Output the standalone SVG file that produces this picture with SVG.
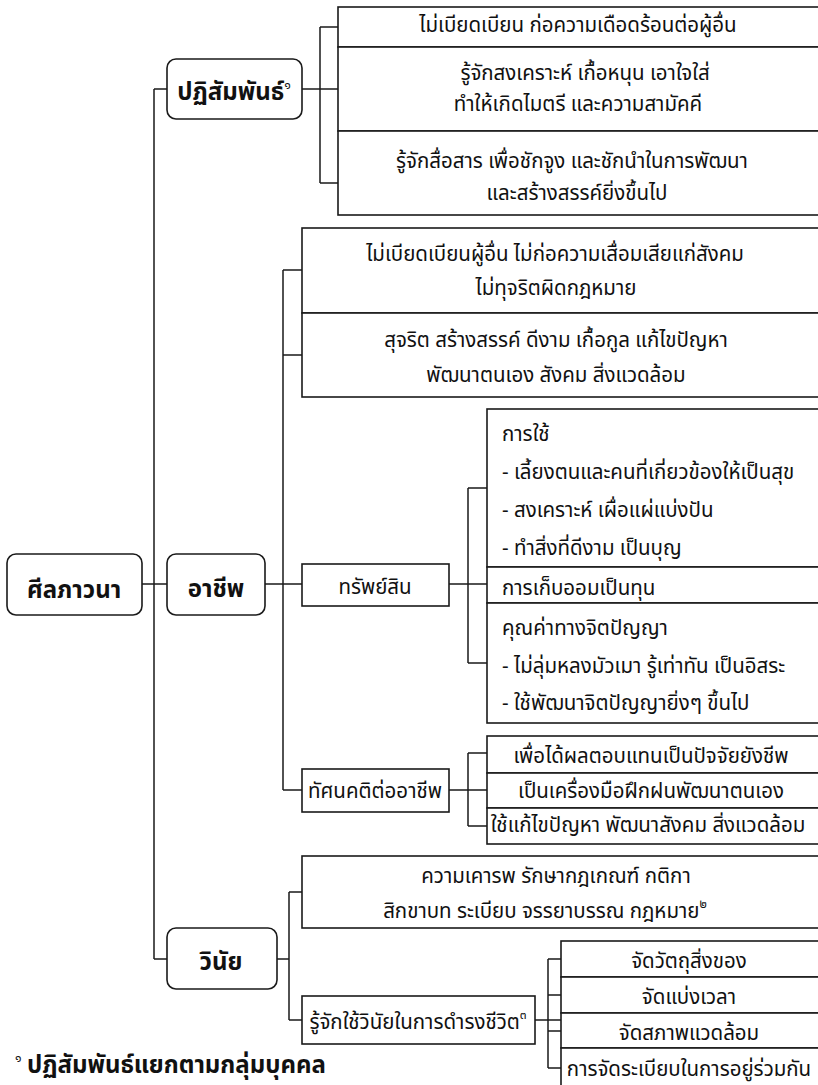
<svg xmlns="http://www.w3.org/2000/svg" width="818" height="1085" viewBox="0 0 818 1085">
<style>
.box{fill:#fff;stroke:#1a1a1a;stroke-width:1.6}
.rbox{fill:#fff;stroke:#1a1a1a;stroke-width:1.6}
.conn{fill:none;stroke:#1a1a1a;stroke-width:1.5}
.t{font-family:"Noto Sans Thai","Noto Sans","DejaVu Sans",sans-serif;font-size:20.5px;fill:#111}
.c{text-anchor:middle}
.b{font-weight:bold;font-size:24px}
.sup{font-size:12px}
</style>
<rect width="818" height="1085" fill="#fff"/>
<g id="connectors">
<path class="conn" d="M142,584H167 M154,89V959 M154,89H167 M154,959H167"/>
<path class="conn" d="M302,89H338 M320,27V183 M320,27H338 M320,183H338"/>
<path class="conn" d="M265,584H302 M283,270V790 M283,270H302 M283,355H302 M283,790H302"/>
<path class="conn" d="M449,584H487 M468,488V663 M468,488H487 M468,663H487"/>
<path class="conn" d="M449,790H487 M468,753V826 M468,753H487 M468,826H487"/>
<path class="conn" d="M277,959H289 M289,892V1020 M289,892H302 M289,1020H302"/>
<path class="conn" d="M535,1020H561 M548,959V1068 M548,959H561 M548,995H561 M548,1031H561 M548,1068H561"/>
</g>
<g id="root">
<rect class="rbox" x="7" y="554" width="135" height="61" rx="9"/>
<text class="t c b" x="74" y="598" font-size="33">ศีลภาวนา</text>
</g>
<g id="n-patisamphan">
<rect class="rbox" x="167" y="59" width="135" height="60" rx="9"/>
<text class="t c b" x="234" y="100" font-size="25.5">ปฏิสัมพันธ์<tspan class="sup" dy="-11" font-weight="normal">๑</tspan></text>
</g>
<g id="n-p1">
<rect class="box" x="338" y="7" width="485" height="40"/>
<text class="t c" x="578" y="32">ไม่เบียดเบียน ก่อความเดือดร้อนต่อผู้อื่น</text>
</g>
<g id="n-p2">
<rect class="box" x="338" y="47" width="485" height="84"/>
<text class="t c" x="585" y="80">รู้จักสงเคราะห์ เกื้อหนุน เอาใจใส่</text>
<text class="t c" x="578" y="111">ทำให้เกิดไมตรี และความสามัคคี</text>
</g>
<g id="n-p3">
<rect class="box" x="338" y="131" width="485" height="84"/>
<text class="t c" x="572" y="168">รู้จักสื่อสาร เพื่อชักจูง และชักนำในการพัฒนา</text>
<text class="t c" x="577" y="200">และสร้างสรรค์ยิ่งขึ้นไป</text>
</g>
<g id="n-achip">
<rect class="rbox" x="167" y="554" width="98" height="61" rx="9"/>
<text class="t c b" x="216" y="597" font-size="24.5">อาชีพ</text>
</g>
<g id="n-a1">
<rect class="box" x="302" y="228" width="521" height="85"/>
<text class="t c" x="555" y="261">ไม่เบียดเบียนผู้อื่น ไม่ก่อความเสื่อมเสียแก่สังคม</text>
<text class="t c" x="556" y="295">ไม่ทุจริตผิดกฎหมาย</text>
</g>
<g id="n-a2">
<rect class="box" x="302" y="313" width="521" height="84"/>
<text class="t c" x="556" y="347">สุจริต สร้างสรรค์ ดีงาม เกื้อกูล แก้ไขปัญหา</text>
<text class="t c" x="556" y="382">พัฒนาตนเอง สังคม สิ่งแวดล้อม</text>
</g>
<g id="n-sap">
<rect class="box" x="302" y="564" width="147" height="42"/>
<text class="t c" x="375" y="594">ทรัพย์สิน</text>
</g>
<g id="n-sap1">
<rect class="box" x="487" y="409" width="336" height="158"/>
<text class="t" x="502" y="441">การใช้</text>
<text class="t" x="502" y="479">- เลี้ยงตนและคนที่เกี่ยวข้องให้เป็นสุข</text>
<text class="t" x="502" y="517">- สงเคราะห์ เผื่อแผ่แบ่งปัน</text>
<text class="t" x="502" y="555">- ทำสิ่งที่ดีงาม เป็นบุญ</text>
</g>
<g id="n-sap2">
<rect class="box" x="487" y="567" width="336" height="36"/>
<text class="t" x="502" y="595">การเก็บออมเป็นทุน</text>
</g>
<g id="n-sap3">
<rect class="box" x="487" y="603" width="336" height="120"/>
<text class="t" x="502" y="635">คุณค่าทางจิตปัญญา</text>
<text class="t" x="502" y="673">- ไม่ลุ่มหลงมัวเมา รู้เท่าทัน เป็นอิสระ</text>
<text class="t" x="502" y="710">- ใช้พัฒนาจิตปัญญายิ่งๆ ขึ้นไป</text>
</g>
<g id="n-tat">
<rect class="box" x="302" y="769" width="147" height="43"/>
<text class="t c" x="375" y="798">ทัศนคติต่ออาชีพ</text>
</g>
<g id="n-tat1">
<rect class="box" x="487" y="736" width="336" height="37"/>
<text class="t c" x="651" y="763">เพื่อได้ผลตอบแทนเป็นปัจจัยยังชีพ</text>
</g>
<g id="n-tat2">
<rect class="box" x="487" y="773" width="336" height="35"/>
<text class="t c" x="651" y="798">เป็นเครื่องมือฝึกฝนพัฒนาตนเอง</text>
</g>
<g id="n-tat3">
<rect class="box" x="487" y="808" width="336" height="36"/>
<text class="t c" x="648" y="832">ใช้แก้ไขปัญหา พัฒนาสังคม สิ่งแวดล้อม</text>
</g>
<g id="n-winai">
<rect class="rbox" x="167" y="928" width="110" height="61" rx="9"/>
<text class="t c b" x="221" y="970" font-size="23">วินัย</text>
</g>
<g id="n-w1">
<rect class="box" x="302" y="856" width="521" height="72"/>
<text class="t c" x="556" y="883">ความเคารพ รักษากฎเกณฑ์ กติกา</text>
<text class="t c" x="545" y="918">สิกขาบท ระเบียบ จรรยาบรรณ กฎหมาย<tspan class="sup" dy="-10">๒</tspan></text>
</g>
<g id="n-w2">
<rect class="box" x="302" y="996" width="233" height="48"/>
<text class="t c" x="418" y="1029">รู้จักใช้วินัยในการดำรงชีวิต<tspan class="sup" dy="-10">๓</tspan></text>
</g>
<g id="n-w21">
<rect class="box" x="561" y="941" width="262" height="36"/>
<text class="t c" x="689" y="968">จัดวัตถุสิ่งของ</text>
</g>
<g id="n-w22">
<rect class="box" x="561" y="977" width="262" height="36"/>
<text class="t c" x="689" y="1004">จัดแบ่งเวลา</text>
</g>
<g id="n-w23">
<rect class="box" x="561" y="1013" width="262" height="35"/>
<text class="t c" x="689" y="1040">จัดสภาพแวดล้อม</text>
</g>
<g id="n-w24">
<rect class="box" x="561" y="1048" width="262" height="45"/>
<text class="t c" x="689" y="1076">การจัดระเบียบในการอยู่ร่วมกัน</text>
</g>
<g id="footnote">
<text class="t sup" x="15" y="1062">๑</text>
<text class="t b" x="27" y="1073" font-size="18.5">ปฏิสัมพันธ์แยกตามกลุ่มบุคคล</text>
</g>
</svg>
